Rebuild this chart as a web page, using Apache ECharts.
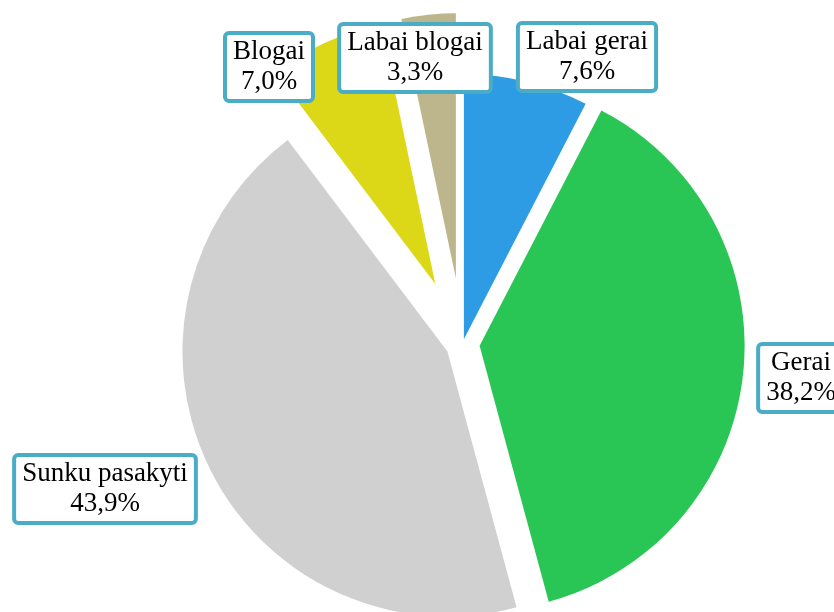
<!DOCTYPE html>
<html>
<head>
<meta charset="utf-8">
<script src="https://cdn.jsdelivr.net/npm/echarts@6/dist/echarts.min.js"></script>
<style>
  html, body { margin: 0; padding: 0; background: #fff; }
  #chart { width: 834px; height: 612px; }
</style>
</head>
<body>
<div id="chart"></div>
<script>
// duomenys
var categories = ['Labai gerai', 'Gerai', 'Sunku pasakyti', 'Blogai', 'Labai blogai'];
var percents = [7.6, 38.2, 43.9, 7.0, 3.3];

// stilius
var colors = ['#2d9ce4', '#2ac655', '#d0d0d0', '#dcd817', '#bdb68c'];
var explode = [5, 17, 17, 66, 66];
var labelPos = [[587, 57], [801, 378], [105, 489], [269, 67], [415, 58]];
var pieCenter = [462.7, 344];
var pieRadius = 265;

var total = 0;
for (var i = 0; i < percents.length; i++) total += percents[i];

var series = [];
var acc = 0;
for (var i = 0; i < percents.length; i++) {
    var mid = (acc + percents[i] / 2) / total * 2 * Math.PI;
    acc += percents[i];
    var cx = pieCenter[0] + explode[i] * Math.sin(mid);
    var cy = pieCenter[1] - explode[i] * Math.cos(mid);
    var data = [];
    for (var j = 0; j < percents.length; j++) {
        var item = { name: categories[j], value: percents[j] };
        if (j == i) {
            item.itemStyle = { color: colors[j] };
        } else {
            item.itemStyle = { color: 'rgba(0,0,0,0)' };
            item.label = { show: false };
        }
        data.push(item);
    }
    (function(pos) {
        series.push({
            type: 'pie',
            silent: true,
            center: [cx, cy],
            radius: [0, pieRadius],
            startAngle: 90,
            clockwise: true,
            avoidLabelOverlap: false,
            emphasis: { disabled: true },
            label: {
                show: true,
                position: 'outside',
                formatter: function(p) {
                    return p.name + '\n' + p.value.toFixed(1).replace('.', ',') + '%';
                },
                fontFamily: '"Liberation Serif", "Times New Roman", serif',
                fontSize: 27,
                lineHeight: 30,
                color: '#000',
                align: 'center',
                backgroundColor: '#fff',
                borderColor: '#4bacc6',
                borderWidth: 4,
                borderRadius: 2,
                padding: [2, 6]
            },
            labelLine: { show: false },
            labelLayout: function() {
                return { x: pos[0], y: pos[1], align: 'center', verticalAlign: 'middle' };
            },
            data: data
        });
    })(labelPos[i]);
}

var myChart = echarts.init(document.getElementById('chart'));
myChart.setOption({
    animation: false,
    backgroundColor: '#fff',
    series: series
});
</script>
</body>
</html>
